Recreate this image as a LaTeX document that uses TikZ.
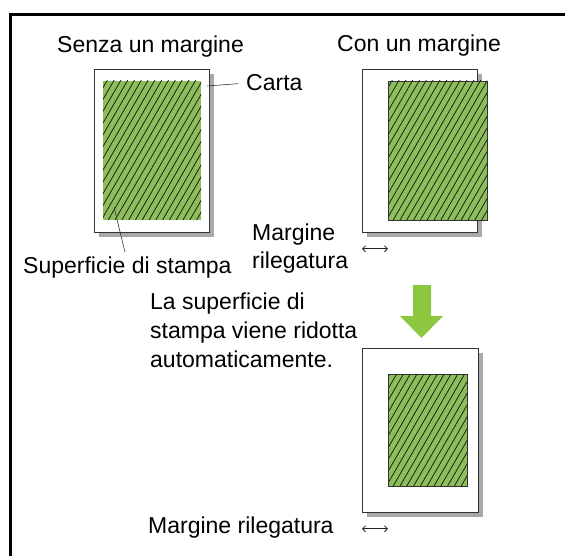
\documentclass[tikz,border=0pt]{standalone}
\usepackage{fontspec}
\setmainfont{Liberation Sans}
\usetikzlibrary{arrows.meta,calc}

\definecolor{printgreen}{RGB}{140,190,90}
\definecolor{arrowgreen}{RGB}{141,198,63}
\definecolor{shadowgray}{RGB}{167,169,172}

\tikzset{
  sheet/.style={draw=black!80, fill=white, line width=0.8pt, inner sep=0pt, anchor=north west},
  sheetshadow/.style={fill=shadowgray},
  printarea/.style={fill=printgreen, inner sep=0pt, anchor=north west},
  hatch/.style={line width=0.75pt, black!90},
  caption/.style={font=\fontsize{23}{28.8}\selectfont, inner sep=0pt, anchor=base west, align=left},
  leader/.style={line width=0.6pt, black!80},
  bind/.style={{Straight Barb[length=3pt,width=6pt]}-{Straight Barb[length=3pt,width=6pt]}, line width=0.8pt, black!85}
}

% hatching of a print area: x1 y1 x2 y2
\newcommand\hatcharea[4]{%
  \begin{scope}
    \clip (#1,#2) rectangle (#3,#4);
    \foreach \hx in {-90,-83.2,...,110}
      \draw[hatch] (#1+\hx,#4) -- ++(80.8,-140);
  \end{scope}}

\begin{document}
\begin{tikzpicture}[x=1pt, y=-1pt]
    \useasboundingbox (0,0) rectangle (565,556);
    % outer frame
    \draw[line width=3pt] (10.5,556) -- (10.5,14.5) -- (565,14.5);

    % without a margin
    \node[caption] (titleA) at (57,53) {Senza un margine};
    \fill[sheetshadow] (99,74) rectangle (214,237);
    \node[sheet, minimum width=115pt, minimum height=163pt] (sheetA) at (94,69) {};
    \node[printarea, minimum width=98pt, minimum height=139pt] (printA) at (103,81) {};
    \hatcharea{103}{81}{201}{220}
    \node[caption] (carta) at (246,91) {Carta};
    \coordinate (cartaTip) at (207,86);
    \draw[leader, shorten >=8pt] (cartaTip) -- (carta.west);
    \node[caption] (superficie) at (23,273) {Superficie di stampa};
    \coordinate (stampaTip) at (114,207);
    \draw[leader] (stampaTip) -- ($(superficie.north west)+(102,-4)$);

    % with a margin
    \node[caption] (titleB) at (337,52) {Con un margine};
    \fill[sheetshadow] (367,74) rectangle (482,237);
    \node[sheet, minimum width=115pt, minimum height=163pt] (sheetB) at (362,69) {};
    \node[printarea, minimum width=99pt, minimum height=139pt] (printB) at (388,81) {};
    \hatcharea{388}{81}{487}{220}
    \draw[black!80, line width=0.8pt] (printB.north west) rectangle (printB.south east);
    \node[caption] (bindB) at (252,269) {Margine\\rilegatura};
    \draw[bind] ([yshift=-16pt]sheetB.south west) -- ([yshift=-16pt]sheetB.south west -| printB.west);

    % reduced print area
    \fill[arrowgreen] (413,285) -- (431,285) -- (431,316) -- (443,316) -- (421.5,338)
        -- (400,316) -- (413,316) -- cycle;
    \node[caption] (note) at (150,367) {La superficie di\\stampa viene ridotta\\automaticamente.};
    \fill[sheetshadow] (367,353) rectangle (483,517);
    \node[sheet, minimum width=116pt, minimum height=164pt] (sheetC) at (362,348) {};
    \node[printarea, minimum width=79pt, minimum height=112pt] (printC) at (388,374) {};
    \hatcharea{388}{374}{467}{486}
    \draw[black!80, line width=0.8pt] (printC.north west) rectangle (printC.south east);
    \node[caption] (bindC) at (148,533) {Margine rilegatura};
    \draw[bind] ([yshift=-16pt]sheetC.south west) -- ([yshift=-16pt]sheetC.south west -| printC.west);
\end{tikzpicture}
\end{document}
